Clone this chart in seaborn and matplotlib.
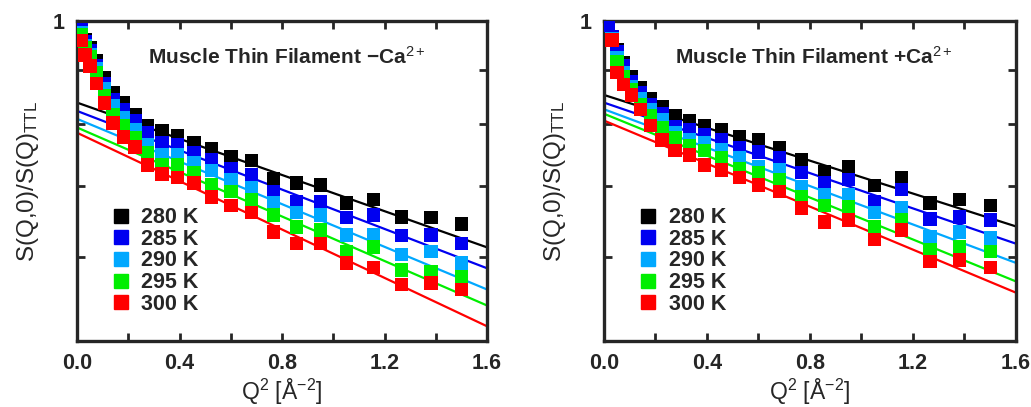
import numpy as np
import pandas as pd
import matplotlib
matplotlib.use('Agg')
import matplotlib.pyplot as plt
from matplotlib.lines import Line2D
import seaborn as sns

sns.set_style('ticks')
plt.rcParams['font.family'] = ['Liberation Sans', 'DejaVu Sans']
plt.rcParams['mathtext.fontset'] = 'custom'
plt.rcParams['mathtext.rm'] = 'Liberation Sans'
plt.rcParams['mathtext.it'] = 'Liberation Sans'
plt.rcParams['mathtext.bf'] = 'Liberation Sans:bold'

# Q^2 [A^-2] sampling points
q2 = [0.016, 0.031, 0.051, 0.076, 0.106, 0.141, 0.181, 0.226, 0.276, 0.331,
      0.391, 0.456, 0.526, 0.601, 0.681, 0.766, 0.856, 0.951, 1.051, 1.156,
      1.266, 1.381, 1.501]

temps = ['280 K', '285 K', '290 K', '295 K', '300 K']
colors = ['#000000', '#0000f0', '#00a8ff', '#00ee00', '#ff0000']

# -Ca2+ : S(Q,0)/S(Q)_TTL
minus_280 = [.981, .960, .943, .917, .884, .856, .837, .816, .798, .788, .780, .768,
             .758, .745, .739, .710, .704, .701, .674, .679, .654, .653, .644]
minus_285 = [.981, .956, .937, .907, .874, .843, .825, .805, .785, .768, .765, .752,
             .740, .727, .717, .691, .676, .676, .653, .657, .628, .629, .618]
minus_290 = [.976, .949, .929, .901, .863, .832, .811, .790, .765, .748, .748, .735,
             .723, .709, .697, .674, .660, .657, .629, .629, .603, .607, .592]
minus_295 = [.970, .943, .925, .894, .850, .816, .798, .776, .752, .732, .732, .720,
             .701, .691, .679, .657, .640, .636, .607, .613, .583, .581, .575]
minus_300 = [.958, .929, .907, .874, .837, .802, .778, .761, .732, .718, .713, .704,
             .683, .671, .660, .633, .618, .618, .592, .586, .565, .567, .559]

# +Ca2+
plus_280 = [np.nan, .964, .939, .913, .886, .865, .846, .830, .814, .805, .797, .790,
            .778, .773, .760, .740, .721, .729, .700, .712, .674, .679, .671]
plus_285 = [.991, .966, .935, .907, .876, .856, .835, .818, .795, .790, .781, .773,
            .760, .753, .743, .720, .704, .709, .676, .694, .651, .654, .650]
plus_290 = [np.nan, .962, .923, .895, .867, .845, .825, .807, .786, .773, .768, .756,
            .743, .729, .724, .698, .686, .686, .660, .667, .627, .633, .625]
plus_295 = [np.nan, .960, .915, .886, .861, .835, .814, .793, .776, .763, .755, .743,
            .727, .720, .709, .683, .671, .669, .640, .650, .609, .613, .607]
plus_300 = [np.nan, .960, .895, .871, .852, .825, .798, .773, .755, .748, .732, .724,
            .713, .701, .691, .667, .647, .650, .623, .636, .594, .596, .586]

# Guinier fits: intercept at Q^2=0 and slope of ln(S) vs Q^2
minus_i0 = [0.838, 0.823, 0.809, 0.794, 0.785]
minus_slope = [0.196, 0.213, 0.231, 0.241, 0.262]
plus_i0 = [0.852, 0.838, 0.826, 0.818, 0.806]
plus_slope = [0.178, 0.191, 0.208, 0.227, 0.233]

panels = [
    ('Muscle Thin Filament \u2212Ca$^{2+}$',
     [minus_280, minus_285, minus_290, minus_295, minus_300], minus_i0, minus_slope),
    ('Muscle Thin Filament +Ca$^{2+}$',
     [plus_280, plus_285, plus_290, plus_295, plus_300], plus_i0, plus_slope),
]

fig = plt.figure(figsize=(10.31, 4.07), dpi=100)
axes = [fig.add_axes([0.0747, 0.1622, 0.3977, 0.7862]),
        fig.add_axes([0.5858, 0.1622, 0.3996, 0.7862])]

qfit = np.linspace(0, 1.6, 50)
pal = dict(zip(temps, colors))

for ax, (title, series, i0s, slopes) in zip(axes, panels):
    df = pd.concat([pd.DataFrame({'q2': q2, 'ratio': s, 'temp': t})
                    for t, s in zip(temps, series)], ignore_index=True)
    fit = pd.concat([pd.DataFrame({'q2': qfit, 'ratio': a * np.exp(-b * qfit), 'temp': t})
                     for t, a, b in zip(temps, i0s, slopes)], ignore_index=True)
    sns.lineplot(data=fit, x='q2', y='ratio', hue='temp', palette=pal, lw=1.6,
                 legend=False, ax=ax, zorder=2)
    sns.scatterplot(data=df, x='q2', y='ratio', hue='temp', palette=pal, marker='s',
                    s=92, linewidth=0, legend=False, ax=ax, zorder=3)

    ax.set_yscale('log')
    ax.set_xlim(0, 1.6)
    ax.set_ylim(0.5, 1.0)
    ax.set_yticks([0.5, 0.6, 0.7, 0.8, 0.9, 1.0])
    ax.set_yticklabels(['', '', '', '', '', '1'])
    ax.yaxis.set_minor_locator(matplotlib.ticker.NullLocator())
    ax.set_xticks(np.arange(0, 1.61, 0.2))
    ax.set_xticklabels(['0.0', '', '0.4', '', '0.8', '', '1.2', '', '1.6'])
    ax.tick_params(direction='in', length=6, width=2, top=True, right=True,
                   labelsize=15.5, pad=9)
    for lab in ax.get_xticklabels() + ax.get_yticklabels():
        lab.set_fontweight('bold')
    for sp in ax.spines.values():
        sp.set_linewidth(2.4)
    ax.set_xlabel('Q$^2$ [\u00c5$^{-2}$]', fontsize=16.5, labelpad=2)
    ax.set_ylabel('S(Q,0)/S(Q)$_{\\mathrm{TTL}}$', fontsize=17.5, labelpad=8)
    ax.text(0.173, 0.866, title, transform=ax.transAxes, fontsize=15,
            fontweight='bold', ha='left', va='baseline')

    handles = [Line2D([], [], marker='s', ls='none', color=c, markersize=10) for c in colors]
    leg = ax.legend(handles, temps, loc='lower left', bbox_to_anchor=(0.06, 0.055),
                    frameon=False, fontsize=15.5, handletextpad=0.45, labelspacing=0.03,
                    borderaxespad=0, handlelength=1.0)
    for t in leg.get_texts():
        t.set_fontweight('bold')

fig.savefig('out.png', dpi=100)
